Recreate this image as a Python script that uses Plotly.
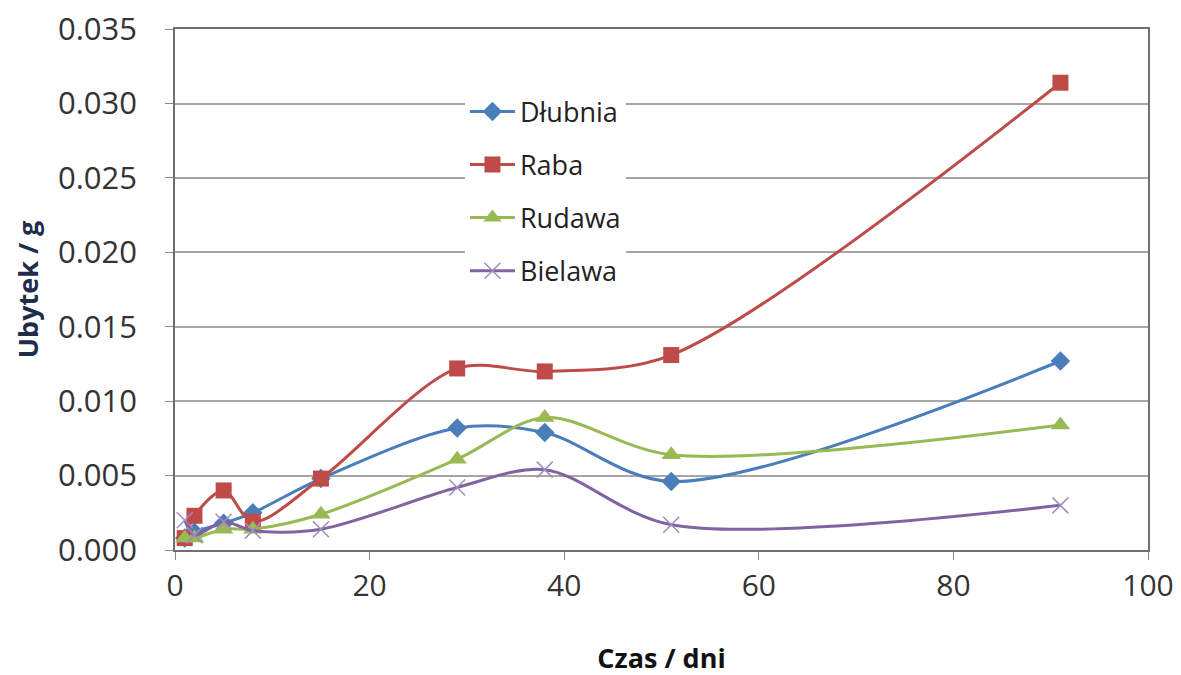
import plotly.graph_objects as go

days = [1, 2, 5, 8, 15, 29, 38, 51, 91]
dlubnia = [0.0008, 0.0012, 0.0018, 0.0025, 0.0048, 0.0082, 0.0079, 0.0046, 0.0127]
raba = [0.0008, 0.0023, 0.0040, 0.0019, 0.0048, 0.0122, 0.0120, 0.0131, 0.0314]
rudawa = [0.0008, 0.0008, 0.0014, 0.0014, 0.0024, 0.0061, 0.0089, 0.0064, 0.0084]
bielawa = [0.0020, 0.0010, 0.0019, 0.0013, 0.0014, 0.0042, 0.0054, 0.0017, 0.0030]

series = [
    ("Dłubnia", dlubnia, "#4a7ebb", "diamond", 15, "dlub"),
    ("Raba", raba, "#be4b48", "square", 16, "raba"),
    ("Rudawa", rudawa, "#98b954", "triangle-up", 17, "rud"),
    ("Bielawa", bielawa, "#8064a2", "x-thin", 16, "biel"),
]

fig = go.Figure()
for name, vals, color, sym, size, grp in series:
    marker = dict(symbol=sym, size=size, color=color)
    if sym == "x-thin":
        marker["line"] = dict(color="#a08cc0", width=1.5)
    fig.add_trace(go.Scatter(
        x=days, y=vals, name=name, mode="lines+markers",
        line=dict(color=color, width=3, shape="spline", smoothing=0.9),
        marker=marker, legendgroup=grp,
    ))

font_family = "Open Sans, Liberation Sans, sans-serif"
fig.update_layout(
    width=1181, height=675,
    margin=dict(l=167, r=41, t=21, b=133, autoexpand=False),
    paper_bgcolor="white", plot_bgcolor="white",
    font=dict(family=font_family, color="#222222"),
    legend=dict(
        x=0.298, y=0.888, xanchor="left", yanchor="top",
        bgcolor="white", borderwidth=0,
        font=dict(size=27, color="#222222"),
        tracegroupgap=15, itemwidth=45,
    ),
    xaxis=dict(
        range=[0, 100], dtick=20, showgrid=False, automargin=False,
        showline=True, linecolor="#707070", linewidth=1.5, mirror=True,
        ticks="outside", ticklen=8, tickcolor="#888888",
        tickfont=dict(size=30, color="#333333"),
        ticklabeloverflow="allow",
        title=dict(text="<b>Czas / dni</b>", font=dict(size=27, color="#111111"), standoff=45),
        zeroline=False,
    ),
    yaxis=dict(
        range=[0, 0.03501], tick0=0, dtick=0.005, tickformat=".3f", automargin=False,
        showgrid=True, gridcolor="#a6a6a6", gridwidth=1.5,
        showline=True, linecolor="#707070", linewidth=1.5, mirror=True,
        ticks="outside", ticklen=8, tickcolor="#888888",
        tickfont=dict(size=31, color="#333333"),
        ticklabelstandoff=22, ticklabeloverflow="allow",
        title=dict(text="<b>Ubytek / g</b>", font=dict(size=27, color="#1f2d4d"), standoff=12),
        zeroline=False,
    ),
)

fig.write_html("out.html")
